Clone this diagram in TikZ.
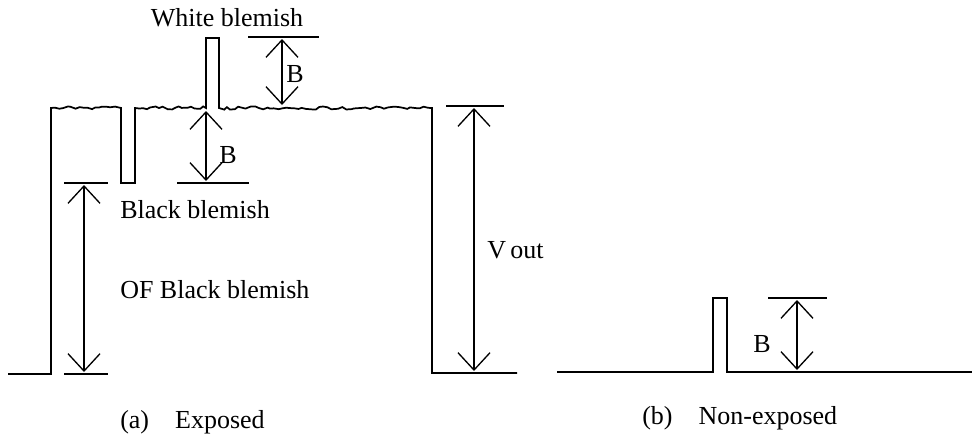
\documentclass[tikz,border=0pt]{standalone}
\usepackage{fontspec}
\setmainfont{Liberation Serif}
\usetikzlibrary{arrows.meta,decorations.pathmorphing}
\begin{document}
\begin{tikzpicture}[x=0.75pt,y=-0.75pt,
  wave/.style={line width=1.3pt},
  refline/.style={line width=1.3pt},
  dimarrow/.style={line width=1pt,{Straight Barb[length=13pt,width=24pt,line width=1pt]}-{Straight Barb[length=13pt,width=24pt,line width=1pt]}},
  lbl/.style={inner sep=0pt,font=\fontsize{19.5pt}{22pt}\selectfont},
  wig/.style={decoration={random steps,segment length=3pt,amplitude=1.2pt}}]
\useasboundingbox (0,0) rectangle (972,440);
\pgfmathsetseed{7}
% ---- (a) exposed waveform
\draw[wave,line join=miter] (8,374) -- (51,374) -- (51,108)
  decorate[wig]{-- (121,108)} -- (121,183) -- (135,183) -- (135,108)
  decorate[wig]{-- (206,108)} -- (206,38) -- (219,38) -- (219,108)
  decorate[wig]{-- (432,108)} -- (432,373) -- (517,373);
% white blemish B
\coordinate (wbT) at (282,39);
\coordinate (wbB) at (282,105);
\draw[refline] (248,37) -- (319,37);
\draw[dimarrow] (wbT) -- (wbB);
\node[lbl,anchor=west] (Bw) at (286,74) {B};
\node[lbl] (white) at (227,18) {White blemish};
% black blemish B
\coordinate (bbT) at (206,111);
\coordinate (bbB) at (206,181);
\draw[refline] (177,183) -- (249,183);
\draw[dimarrow] (bbT) -- (bbB);
\node[lbl,anchor=west] (Bb) at (219,155) {B};
% OF black blemish
\draw[refline] (64,183) -- (108,183);
\draw[refline] (64,374) -- (108,374);
\coordinate (ofT) at (84,185);
\coordinate (ofB) at (84,372);
\draw[dimarrow] (ofT) -- (ofB);
\node[lbl,anchor=west] (black) at (120,210) {Black blemish};
\node[lbl,anchor=west] (of) at (120,290) {OF Black blemish};
% Vout
\draw[refline] (446,106) -- (504,106);
\coordinate (voT) at (474,108);
\coordinate (voB) at (474,371);
\draw[dimarrow] (voT) -- (voB);
\node[lbl,anchor=west] (vout) at (487,250) {V\,out};
\node[lbl,anchor=west] (capa) at (120,422) {(a)\hspace{1em}Exposed};
% ---- (b) non-exposed
\draw[wave,line join=miter] (557,372) -- (713,372) -- (713,298) -- (727,298) -- (727,372) -- (972,372);
\draw[refline] (768,298) -- (827,298);
\coordinate (neT) at (797,300);
\coordinate (neB) at (797,370);
\draw[dimarrow] (neT) -- (neB);
\node[lbl,anchor=west] (Bn) at (753,344) {B};
\node[lbl,anchor=west] (capb) at (642,418) {(b)\hspace{1em}Non-exposed};
\end{tikzpicture}
\end{document}
